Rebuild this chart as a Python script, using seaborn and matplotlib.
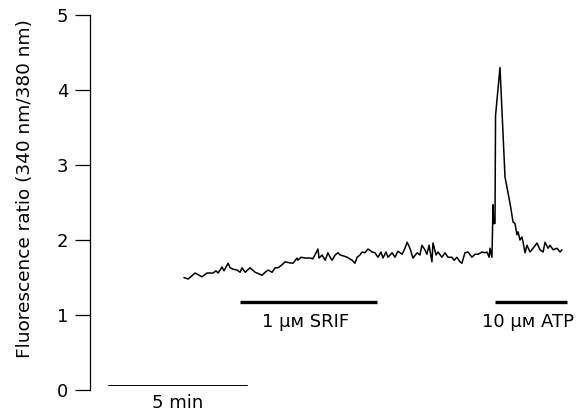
import numpy as np
import pandas as pd
import matplotlib
matplotlib.use("Agg")
import matplotlib.pyplot as plt
import seaborn as sns

# time in minutes (0 = start of the 5 min scale bar), fura-2 ratio
time_min = [
    2.73, 2.88, 3.13, 3.38, 3.56, 3.78, 3.88, 3.96, 4.10, 4.17,
    4.32, 4.39, 4.50, 4.64, 4.75, 4.82, 4.93, 5.11, 5.29, 5.36,
    5.54, 5.65, 5.76, 5.90, 6.01, 6.12, 6.26, 6.37, 6.47, 6.65,
    6.80, 6.83, 6.94, 7.09, 7.27, 7.37, 7.48, 7.55, 7.59, 7.70,
    7.81, 7.91, 7.99, 8.06, 8.17, 8.27, 8.35, 8.45, 8.60, 8.78,
    8.88, 8.96, 9.06, 9.14, 9.24, 9.35, 9.50, 9.60, 9.71, 9.82,
    9.89, 10.00, 10.07, 10.22, 10.32, 10.43, 10.58, 10.68, 10.76, 10.86,
    10.97, 11.12, 11.22, 11.29, 11.40, 11.47, 11.55, 11.65, 11.69, 11.80,
    11.87, 12.01, 12.12, 12.23, 12.37, 12.45, 12.55, 12.66, 12.73, 12.84,
    12.95, 13.09, 13.20, 13.31, 13.45, 13.56, 13.63, 13.71, 13.74, 13.81,
    13.85, 13.87, 13.92, 13.94, 14.10, 14.28, 14.46, 14.57, 14.64, 14.71,
    14.75, 14.82, 14.89, 14.93, 15.00, 15.07, 15.18, 15.29, 15.43, 15.54,
    15.65, 15.72, 15.83, 15.90, 16.01, 16.15, 16.26, 16.33,
]
ratio = [
    1.50, 1.48, 1.56, 1.51, 1.56, 1.56, 1.59, 1.56, 1.64, 1.59,
    1.69, 1.63, 1.61, 1.60, 1.57, 1.63, 1.57, 1.63, 1.57, 1.56,
    1.53, 1.57, 1.60, 1.57, 1.63, 1.63, 1.67, 1.71, 1.70, 1.69,
    1.76, 1.73, 1.77, 1.76, 1.76, 1.75, 1.83, 1.88, 1.76, 1.80,
    1.73, 1.83, 1.77, 1.73, 1.80, 1.83, 1.80, 1.79, 1.77, 1.73,
    1.69, 1.77, 1.80, 1.84, 1.83, 1.88, 1.84, 1.83, 1.77, 1.84,
    1.76, 1.84, 1.77, 1.83, 1.77, 1.85, 1.81, 1.89, 1.97, 1.89,
    1.76, 1.83, 1.80, 1.93, 1.87, 1.81, 1.93, 1.71, 1.96, 1.80,
    1.84, 1.77, 1.83, 1.77, 1.77, 1.73, 1.77, 1.71, 1.69, 1.83,
    1.84, 1.77, 1.81, 1.81, 1.84, 1.83, 1.84, 1.77, 1.89, 1.77,
    2.47, 2.22, 2.22, 3.66, 4.30, 2.84, 2.49, 2.24, 2.22, 2.07,
    2.11, 2.00, 2.04, 1.97, 1.83, 1.93, 1.84, 1.89, 1.96, 1.87,
    1.84, 1.97, 1.89, 1.93, 1.87, 1.89, 1.84, 1.87,
]

# treatment bars: label, start, end (minutes)
treatments = ["1 μᴍ SRIF", "10 μᴍ ATP"]
treat_start = [4.75, 13.92]
treat_end = [9.68, 16.51]
scale_bar = [0.0, 5.0]

sns.set_style("ticks")
plt.rcParams["font.family"] = ["DejaVu Sans"]
plt.rcParams["text.color"] = "black"
plt.rcParams["axes.labelcolor"] = "black"
plt.rcParams["ytick.color"] = "black"
plt.rcParams["axes.edgecolor"] = "black"

df = pd.DataFrame({"time": time_min, "ratio": ratio})

fig = plt.figure(figsize=(5.87, 4.12), dpi=100)
ax = fig.add_axes([90 / 587, 0, 497 / 587, 1])

sns.lineplot(data=df, x="time", y="ratio", estimator=None, color="black",
             linewidth=1.1, ax=ax)

for lab, s, e in zip(treatments, treat_start, treat_end):
    ax.plot([s, e], [1.17, 1.17], color="black", linewidth=2.4, solid_capstyle="butt")
    ax.text((s + e) / 2 - 0.1, 0.84, lab, ha="center", va="baseline", fontsize=13)

ax.plot(scale_bar, [0.067, 0.067], color="black", linewidth=0.7)
ax.text(sum(scale_bar) / 2, -0.24, "5 min", ha="center", va="baseline", fontsize=13)

ax.set_xlim(-0.65, 17.23)
ax.set_ylim(-0.293, 5.2)
ax.set_yticks([0, 1, 2, 3, 4, 5])
ax.spines["left"].set_bounds(0, 5)
ax.spines["left"].set_linewidth(0.9)
for side in ["top", "right", "bottom"]:
    ax.spines[side].set_visible(False)
ax.set_xticks([])
ax.tick_params(axis="y", length=10.5, width=0.9, pad=5, labelsize=13, colors="black")
ax.set_xlabel("")
ax.set_ylabel("Fluorescence ratio (340 nm/380 nm)", fontsize=13.3)
ax.yaxis.label.set_va("center")
ax.yaxis.set_label_coords(-0.131, 1 - 189 / 412)

fig.savefig("out.png", dpi=100)
